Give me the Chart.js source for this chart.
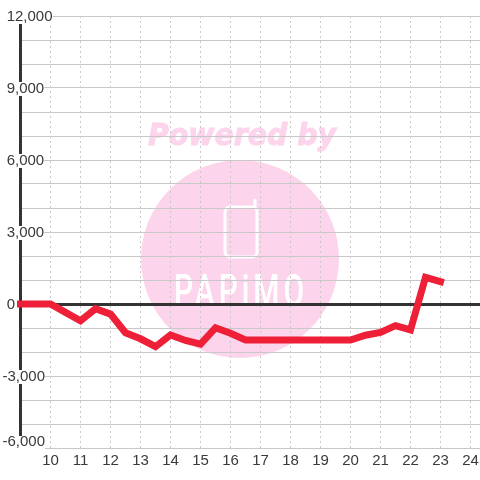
<!DOCTYPE html>
<html>
<head>
<meta charset="utf-8">
<style>
  html, body { margin: 0; padding: 0; background: #fff; }
  #wrap { width: 480px; height: 480px; }
</style>
<script src="https://cdn.jsdelivr.net/npm/chart.js@4"></script>
</head>
<body>
<div id="wrap"><canvas id="lineChart"></canvas></div>
<script>
var hours = [9, 9.5, 10, 10.5, 11, 11.5, 12, 12.5, 13, 13.5, 14, 14.5, 15, 15.5, 16, 16.5,
  17, 17.5, 18, 18.5, 19, 19.5, 20, 20.5, 21, 21.5, 22, 22.5, 23];
var profit = [0, 0, 0, -350, -700, -200, -420, -1200, -1450, -1780, -1290, -1520, -1670, -990, -1220, -1500,
  -1500, -1500, -1500, -1500, -1500, -1500, -1500, -1300, -1180, -900, -1080, 1110, 930];
var yLabels = { "12000": " 12,000", "9000": " 9,000", "6000": " 6,000", "3000": " 3,000", "0": " 0", "-3000": "-3,000", "-6000": "-6,000" };

// pink logo behind the grid
var watermark = {
  id: "watermark",
  beforeDraw: function (chart) {
    var c = chart.ctx;
    c.save();
    c.fillStyle = "#fcd5ec";
    c.strokeStyle = "#fcd5ec";
    c.beginPath();
    c.arc(240, 259, 99, 0, Math.PI * 2);
    c.fill();
    c.font = "italic bold 30px 'DejaVu Sans'";
    c.textAlign = "center";
    c.textBaseline = "alphabetic";
    c.lineWidth = 1;
    c.fillText("Powered by", 242, 145, 188);
    c.strokeText("Powered by", 242, 145, 188);
    c.strokeStyle = "#fff";
    c.lineWidth = 3;
    c.lineJoin = "round";
    c.lineCap = "round";
    c.beginPath();
    c.roundRect(225, 207, 32, 50, 5);
    c.moveTo(255, 207);
    c.lineTo(255, 200);
    c.stroke();
    c.fillStyle = "#fff";
    c.font = "500 45px Roboto";
    c.letterSpacing = "6px";
    c.fillText("PAPiMO", 241, 306, 134);
    c.restore();
  },
};

// nudge the value labels down a little, and keep the lowest one inside the plot
// (backdrop position is relative to the label position)
var labelNudge = {
  id: "labelNudge",
  afterLayout: function (chart) {
    chart.scales.y.getLabelItems().forEach(function (item) {
      if (!item.label) return;
      var lowest = item.label === "-6,000";
      item.options.translation[1] += lowest ? -6.5 : 0.7;
      item.options.backdrop.top = lowest ? -5.5 : -6.7;
      item.options.backdrop.height = 14;
    });
  },
};

new Chart(document.getElementById("lineChart").getContext("2d"), {
  type: "line",
  data: {
    labels: hours,
    datasets: [{
      data: profit,
      borderColor: "#ee2037",
      borderWidth: 7,
      borderCapStyle: "square",
      borderJoinStyle: "miter",
      pointRadius: 0,
      tension: 0,
      clip: false,
    }],
  },
  options: {
    responsive: true,
    maintainAspectRatio: false,
    animation: false,
    layout: { padding: { left: 20.5, top: 16, right: 0, bottom: 0 } },
    plugins: { legend: { display: false }, tooltip: { enabled: false } },
    scales: {
      x: {
        type: "linear",
        min: 9,
        max: 24.317,
        afterFit: function (scale) {
          scale.height = 32;
          scale.paddingLeft = 0;
          scale.paddingRight = 0;
        },
        border: { display: false, dash: [2, 3] },
        grid: {
          color: "#c8c8c8",
          lineWidth: 1,
          drawTicks: false,
        },
        ticks: {
          stepSize: 1,
          includeBounds: false,
          autoSkip: false,
          maxRotation: 0,
          padding: 4,
          color: "#3a3a3a",
          font: { family: "'Liberation Sans'", size: 15 },
          callback: function (v) { return v === 9 ? "" : String(v); },
        },
      },
      y: {
        min: -6000,
        max: 12000,
        afterFit: function (scale) {
          scale.width = 0;
          scale.paddingTop = 0;
          scale.paddingBottom = 0;
        },
        border: { color: "#333", width: 3 },
        grid: {
          drawTicks: false,
          color: function (ctx) { return ctx.tick && ctx.tick.value === 0 ? "#333" : "#c8c8c8"; },
          lineWidth: function (ctx) { return ctx.tick && ctx.tick.value === 0 ? 3 : 1; },
        },
        ticks: {
          stepSize: 1000,
          autoSkip: false,
          mirror: true,
          padding: -18,
          color: "#3a3a3a",
          font: { family: "'Liberation Sans'", size: 15, lineHeight: 1 },
          showLabelBackdrop: true,
          backdropColor: "#fff",
          backdropPadding: 0,
          callback: function (v) { return yLabels[v] || ""; },
        },
      },
    },
  },
  plugins: [watermark, labelNudge],
});
</script>
</body>
</html>
